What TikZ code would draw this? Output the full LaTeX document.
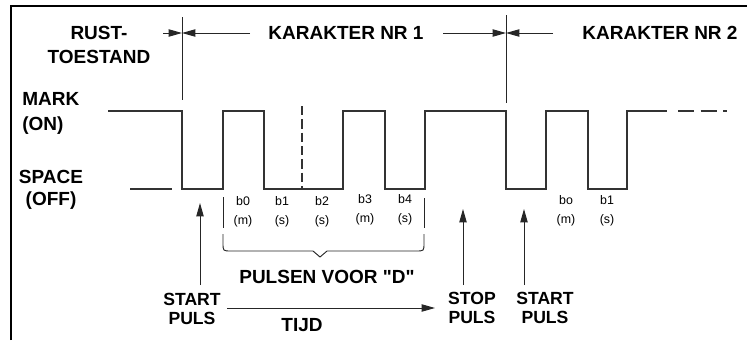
\documentclass[tikz,border=0pt]{standalone}
\usepackage{fontspec}
\setmainfont{Liberation Sans}[Ligatures=TeXOff]
\usetikzlibrary{arrows.meta}
\begin{document}
\begin{tikzpicture}[x=0.75pt,y=-0.75pt,
  big/.style={font=\bfseries\fontsize{14.25}{18}\selectfont, inner sep=0pt, align=center},
  pulse/.style={font=\bfseries\fontsize{13.2}{14.2}\selectfont, inner sep=0pt, align=center},
  bit/.style={font=\fontsize{9.3}{14}\selectfont, inner sep=0pt, align=center},
  wave/.style={line width=1.5pt, draw=black!80, line join=miter},
  thinline/.style={line width=0.7pt, draw=black!85},
  tipr/.style={-{Triangle[length=10pt,width=5.5pt]}},
  uparrow/.style={thinline, -{Triangle[length=10pt,width=5.5pt]}}]
\useasboundingbox (0,0) rectangle (747,340);
% frame
\draw[line width=1.6pt] (11,340) -- (11,6) -- (747,6);
% headings
\node[big] (rust) at (99,45) {RUST-\\TOESTAND};
\node[big] (kar1) at (346,33) {KARAKTER NR 1};
\node[big] (kar2) at (660,33) {KARAKTER NR 2};
\node[big, align=left, anchor=west, font=\bfseries\fontsize{14.25}{18.75}\selectfont] (mark) at (22,113) {MARK\\(ON)};
\node[big, font=\bfseries\fontsize{14.25}{16.5}\selectfont] (space) at (51,190) {SPACE\\(OFF)};
% boundaries
\coordinate (b1t) at (182,17); \coordinate (b1b) at (182,100);
\coordinate (b2t) at (506,15); \coordinate (b2b) at (506,103);
\draw[thinline] (b1t) -- (b1b);
\draw[thinline] (b2t) -- (b2b);
\coordinate (b1m) at (182,33); \coordinate (b2m) at (506,33);
\coordinate (a1) at (163,33); \coordinate (a2) at (250,33);
\coordinate (a3) at (443,33); \coordinate (a4) at (553,33);
\draw[thinline, tipr] (a1) -- (b1m);
\draw[thinline, tipr] (a2) -- (b1m);
\draw[thinline, tipr] (a3) -- (b2m);
\draw[thinline, tipr] (a4) -- (b2m);
% waveform
\draw[wave] (108,111) -- (182,111) -- (182,189) -- (223,189) -- (223,111) -- (264,111) -- (264,189) -- (343,189) -- (343,111) -- (385,111) -- (385,189) -- (425,189) -- (425,111) -- (506,111) -- (506,189) -- (546,189) -- (546,111) -- (588,111) -- (588,189) -- (627,189) -- (627,111) -- (667,111);
\draw[wave, dash pattern=on 12 off 5] (678,111) -- (727,111);
\draw[wave] (130,189) -- (172,189);
\draw[line width=1pt, draw=black!80, dash pattern=on 7pt off 3pt] (302,106) -- (302,189);
% bit labels
\node[bit] (bit0) at (243,212) {b0\\(m)};
\node[bit] (bit1) at (282,212) {b1\\(s)};
\node[bit] (bit2) at (322,212) {b2\\(s)};
\node[bit] (bit3) at (365,210) {b3\\(m)};
\node[bit] (bit4) at (405,210) {b4\\(s)};
\node[bit] (bit5) at (566,211) {bo\\(m)};
\node[bit] (bit6) at (607,211) {b1\\(s)};
\draw[thinline] (223,197) -- (223,228);
\draw[thinline] (424,198) -- (424,228);
% brace
\draw[thinline] (223,234) -- (223,243) .. controls (223,251) .. (231,251) -- (313,251) -- (320,257) -- (327,251) -- (416,251) .. controls (424,251) .. (424,243) -- (424,234);
\node[big] (puls) at (327,277) {PULSEN VOOR "D"};
% pulse arrows
\node[pulse] (start1) at (192,309) {START\\PULS};
\node[pulse] (stop) at (472,308) {STOP\\PULS};
\node[pulse] (start2) at (545,308) {START\\PULS};
\coordinate (s1a) at (200,285); \coordinate (s1t) at (200,203);
\coordinate (s2a) at (463,285); \coordinate (s2t) at (463,209);
\coordinate (s3a) at (524,285); \coordinate (s3t) at (524,209);
\draw[uparrow] (s1a) -- (s1t);
\draw[uparrow] (s2a) -- (s2t);
\draw[uparrow] (s3a) -- (s3t);
% time arrow
\coordinate (t1) at (227,308); \coordinate (t2) at (435,308);
\draw[thinline, tipr] (t1) -- (t2);
\node[big] (tijd) at (302,325) {TIJD};
\end{tikzpicture}
\end{document}
